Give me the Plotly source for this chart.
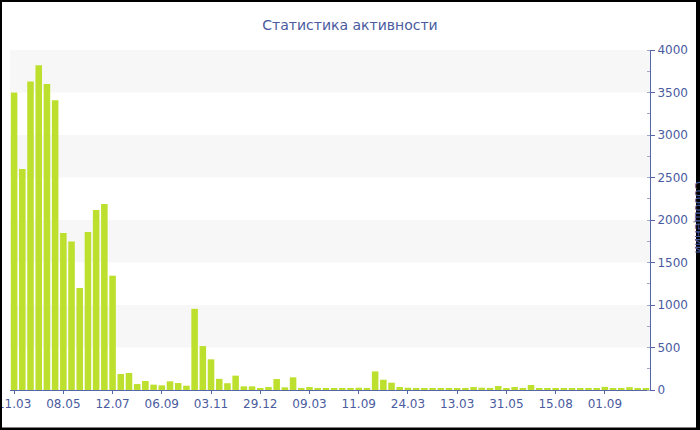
import plotly.graph_objects as go

# --- data ---
values = [3500, 2600, 3630, 3820, 3600, 3410, 1846, 1748, 1200, 1858,
          2117, 2188, 1345, 188, 200, 70, 106, 63, 55, 102,
          82, 51, 955, 517, 361, 131, 80, 169, 43, 43,
          23, 35, 129, 31, 149, 23, 35, 23, 20, 20,
          20, 20, 27, 20, 219, 121, 86, 35, 27, 20,
          16, 16, 16, 20, 12, 16, 35, 27, 23, 47,
          16, 35, 23, 59, 12, 12, 12, 12, 14, 12,
          14, 16, 37, 23, 16, 33, 12, 12]
x_index = list(range(len(values)))
tick_positions = [0, 6, 12, 18, 24, 30, 36, 42, 48, 54, 60, 66, 72]
tick_labels = ["11.03", "08.05", "12.07", "06.09", "03.11", "29.12", "09.03",
               "11.09", "24.03", "13.03", "31.05", "15.08", "01.09"]
y_ticks = [0, 500, 1000, 1500, 2000, 2500, 3000, 3500, 4000]
title_text = "Статистика активности"
y_title = "Сообщений"

BAR = "#bde02e"
TXT = "#4a5ba0"
AX = "#5566a8"
FONT = "DejaVu Sans"

fig = go.Figure(go.Bar(x=x_index, y=values, marker=dict(color=BAR, line=dict(width=0)),
                       hoverinfo="y"))

shapes = []
# alternating bands
for i in range(len(y_ticks) - 1):
    if i % 2 == 1:
        shapes.append(dict(type="rect", xref="paper", yref="y", x0=0, x1=1,
                           y0=y_ticks[i], y1=y_ticks[i + 1],
                           fillcolor="#f7f7f7", line=dict(width=0), layer="below"))

L, R, T, B, W, H = 10, 650, 50, 390, 700, 430
pw, ph = R - L, B - T
def px(v): return (v - L) / pw
def py(v): return (B - v) / ph
for (a, b, c, d) in [(0, 2, 0, H), (696, W, 0, H), (0, W, 0, 2), (0, W, 427.5, H)]:
    shapes.append(dict(type="rect", xref="paper", yref="paper",
                       x0=px(a), x1=px(b), y0=py(d), y1=py(c),
                       fillcolor="black", line=dict(width=0), layer="above"))

fig.update_layout(
    width=700, height=430,
    margin=dict(l=L, r=W - R, t=T, b=H - B, autoexpand=False),
    paper_bgcolor="white", plot_bgcolor="white",
    font=dict(family=FONT, size=12, color=TXT),
    title=dict(text=title_text, x=0.5, xanchor="center", y=1 - 25 / 430, yanchor="middle",
               font=dict(family=FONT, size=14, color=TXT)),
    bargap=0.2,
    showlegend=False,
    shapes=shapes,
    xaxis=dict(range=[-0.5, len(values) - 0.5], tickmode="array",
               tickvals=tick_positions, ticktext=tick_labels, automargin=False,
               showgrid=False, zeroline=False, showline=True, linecolor=AX, linewidth=1,
               ticks="outside", ticklen=3, tickcolor=AX, ticklabeloverflow="allow",
               tickfont=dict(family=FONT, size=12, color=TXT)),
    yaxis=dict(range=[0, 4000], side="right", tickmode="array", tickvals=y_ticks,
               automargin=False,
               showgrid=False, zeroline=False, showline=True, linecolor=AX, linewidth=1,
               ticks="outside", ticklen=4, tickcolor=AX, ticklabeloverflow="allow",
               minor=dict(dtick=250, ticks="inside", ticklen=3, tickcolor="#a0a8c8", showgrid=False),
               tickfont=dict(family=FONT, size=12, color=TXT)),
    annotations=[dict(text=y_title, xref="paper", yref="paper", x=px(699), y=py(217),
                      xanchor="center", yanchor="middle", textangle=90, showarrow=False,
                      font=dict(family=FONT, size=12, color=TXT))],
)

fig.write_html("out.html", post_script="document.body.style.margin='0';",
               config={"displayModeBar": False})
